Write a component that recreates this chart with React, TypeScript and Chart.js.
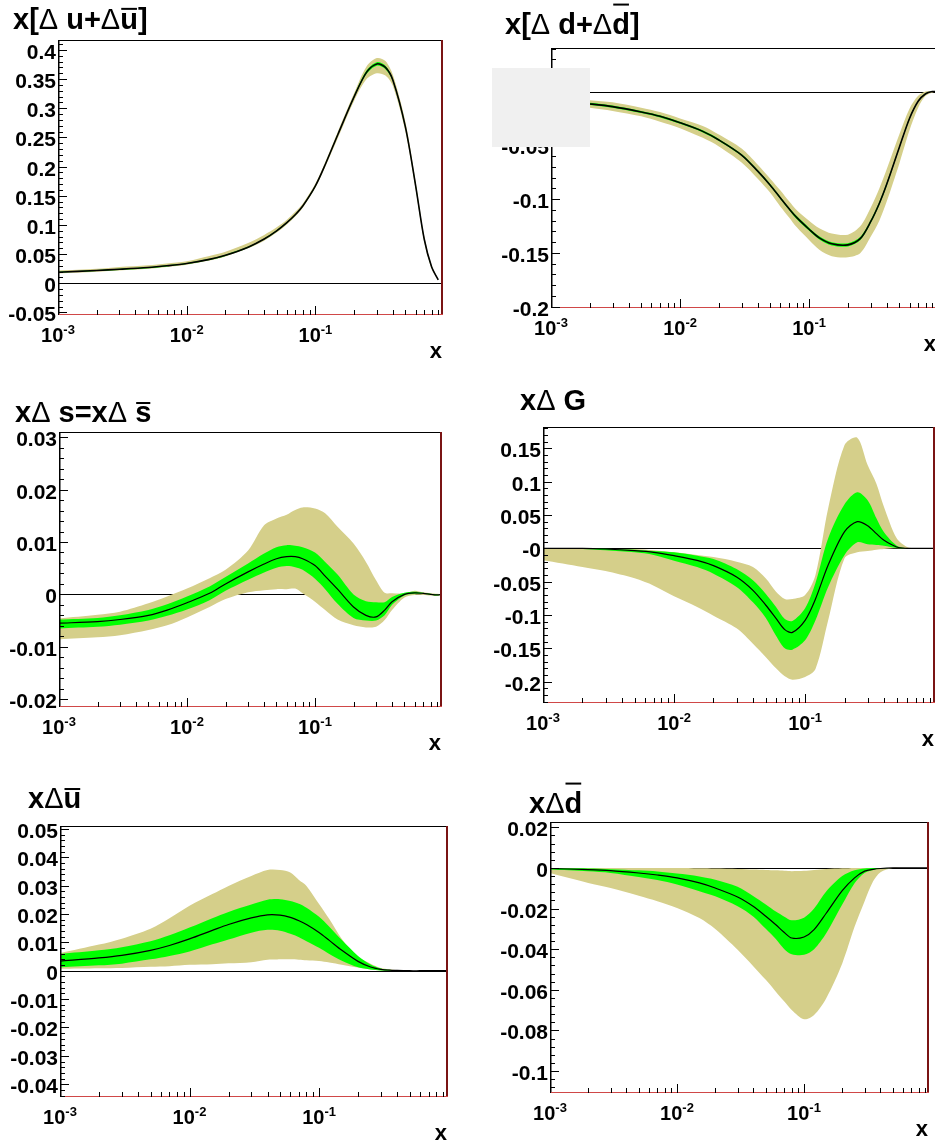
import React, { useEffect, useRef } from 'react';
import { Chart, registerables } from 'chart.js';

Chart.register(...registerables);

// ---------- data ----------
const X = [0.001, 0.002, 0.003, 0.005, 0.007, 0.01, 0.015, 0.02, 0.03, 0.04, 0.05, 0.06, 0.07, 0.08, 0.1, 0.12, 0.15, 0.2, 0.25, 0.3, 0.35, 0.4, 0.5, 0.6, 0.7, 0.8, 0.9, 0.98];

// x[Δu+Δubar]
const U_C = [0.019, 0.022, 0.024, 0.027, 0.030, 0.034, 0.041, 0.048, 0.062, 0.076, 0.090, 0.104, 0.118, 0.133, 0.167, 0.205, 0.256, 0.320, 0.362, 0.376, 0.370, 0.348, 0.268, 0.168, 0.076, 0.028, 0.006, null];
const U_GH = [0.020, 0.023, 0.025, 0.028, 0.031, 0.035, 0.042, 0.049, 0.063, 0.077, 0.091, 0.105, 0.119, 0.134, 0.168, 0.206, 0.257, 0.322, 0.365, 0.379, 0.373, 0.350, 0.270, 0.170, 0.077, 0.029, 0.006, null];
const U_GL = [0.018, 0.021, 0.023, 0.026, 0.029, 0.033, 0.040, 0.047, 0.061, 0.075, 0.089, 0.103, 0.117, 0.132, 0.166, 0.204, 0.255, 0.318, 0.359, 0.373, 0.367, 0.346, 0.266, 0.166, 0.075, 0.027, 0.006, null];
const U_TH = [0.022, 0.025, 0.028, 0.031, 0.034, 0.038, 0.047, 0.054, 0.069, 0.083, 0.096, 0.109, 0.123, 0.137, 0.171, 0.209, 0.261, 0.326, 0.372, 0.386, 0.381, 0.357, 0.277, 0.175, 0.081, 0.031, 0.007, null];
const U_TL = [0.017, 0.020, 0.022, 0.025, 0.028, 0.032, 0.039, 0.046, 0.060, 0.073, 0.087, 0.101, 0.115, 0.130, 0.164, 0.201, 0.250, 0.313, 0.350, 0.360, 0.356, 0.338, 0.260, 0.161, 0.071, 0.025, 0.005, null];

// x[Δd+Δdbar]
const D_C = [-0.008, -0.0115, -0.014, -0.019, -0.023, -0.029, -0.037, -0.045, -0.059, -0.074, -0.087, -0.099, -0.109, -0.117, -0.128, -0.136, -0.1415, -0.1425, -0.1365, -0.121, -0.104, -0.086, -0.052, -0.025, -0.009, -0.002, 0, 0];
const D_GH = [-0.007, -0.0105, -0.013, -0.018, -0.022, -0.028, -0.036, -0.044, -0.058, -0.073, -0.086, -0.098, -0.108, -0.1155, -0.1265, -0.1345, -0.140, -0.141, -0.135, -0.1195, -0.1025, -0.0845, -0.051, -0.024, -0.0085, -0.0015, 0, 0];
const D_GL = [-0.009, -0.0125, -0.015, -0.020, -0.024, -0.030, -0.038, -0.046, -0.060, -0.075, -0.088, -0.100, -0.110, -0.1185, -0.1295, -0.1375, -0.143, -0.144, -0.138, -0.1225, -0.1055, -0.0875, -0.053, -0.026, -0.0095, -0.0025, 0, 0];
const D_TH = [-0.005, -0.008, -0.010, -0.015, -0.019, -0.025, -0.032, -0.040, -0.053, -0.068, -0.081, -0.092, -0.102, -0.110, -0.120, -0.127, -0.132, -0.133, -0.125, -0.108, -0.090, -0.072, -0.040, -0.016, -0.004, 0, 0, 0];
const D_TL = [-0.011, -0.015, -0.018, -0.023, -0.028, -0.034, -0.043, -0.051, -0.066, -0.081, -0.094, -0.107, -0.117, -0.126, -0.138, -0.147, -0.153, -0.154, -0.150, -0.135, -0.120, -0.102, -0.067, -0.036, -0.015, -0.004, -0.001, 0];

// xΔs = xΔsbar
const S_C = [-0.0055, -0.0052, -0.0048, -0.0040, -0.0030, -0.0016, 0.0002, 0.0020, 0.0043, 0.0058, 0.0068, 0.0072, 0.0072, 0.0068, 0.0055, 0.0035, 0.0010, -0.0024, -0.0040, -0.0043, -0.0030, -0.0014, 0.0, 0.0003, 0.0002, 0.0, -0.0001, 0];
const S_GH = [-0.0048, -0.0045, -0.0040, -0.0030, -0.0019, -0.0004, 0.0015, 0.0033, 0.0059, 0.0078, 0.0090, 0.0094, 0.0093, 0.0090, 0.0080, 0.0062, 0.0038, 0.0000, -0.0013, -0.0015, -0.0015, -0.0005, 0.0003, 0.0005, 0.0003, 0.0001, 0.0, 0];
const S_GL = [-0.0065, -0.0062, -0.0058, -0.0050, -0.0041, -0.0029, -0.0011, 0.0007, 0.0028, 0.0042, 0.0051, 0.0054, 0.0052, 0.0047, 0.0030, 0.0010, -0.0018, -0.0045, -0.0050, -0.0050, -0.0040, -0.0020, -0.0002, 0.0001, 0.0001, -0.0001, -0.0002, 0];
const S_TH = [-0.0046, -0.0039, -0.0033, -0.0017, -0.0004, 0.0011, 0.0031, 0.0047, 0.0084, 0.0132, 0.0145, 0.0152, 0.0161, 0.0166, 0.0164, 0.0155, 0.0129, 0.0097, 0.0062, 0.0027, 0.0003, 0.0002, 0.0002, 0.0007, 0.0004, 0.0002, 0.0001, 0];
const S_TL = [-0.0086, -0.0082, -0.0078, -0.0068, -0.0059, -0.0044, -0.0024, -0.0009, 0.0004, 0.0008, 0.0010, 0.0010, 0.0011, 0.0002, -0.0014, -0.0030, -0.0048, -0.0059, -0.0063, -0.0062, -0.0049, -0.0030, -0.0006, -0.0001, -0.0001, -0.0002, -0.0003, 0];

// xΔG
const G_C = [0, 0, -0.001, -0.0035, -0.006, -0.011, -0.018, -0.026, -0.043, -0.063, -0.085, -0.105, -0.122, -0.126, -0.108, -0.076, -0.025, 0.025, 0.040, 0.034, 0.022, 0.012, 0.002, 0, 0, 0, 0, 0];
const G_GH = [0, 0, -0.0005, -0.002, -0.004, -0.006, -0.011, -0.016, -0.031, -0.048, -0.068, -0.088, -0.106, -0.109, -0.090, -0.052, 0.015, 0.066, 0.084, 0.072, 0.045, 0.024, 0.004, 0, 0, 0, 0, 0];
const G_GL = [0, -0.001, -0.003, -0.006, -0.010, -0.0185, -0.028, -0.038, -0.058, -0.081, -0.104, -0.131, -0.150, -0.152, -0.138, -0.108, -0.058, -0.010, 0.009, 0.006, 0.005, 0.004, 0.0005, 0, 0, 0, 0, 0];
const G_TH = [0, -0.001, -0.001, -0.001, -0.003, -0.006, -0.010, -0.013, -0.020, -0.028, -0.045, -0.065, -0.076, -0.076, -0.070, -0.040, 0.060, 0.155, 0.166, 0.125, 0.097, 0.062, 0.015, 0.002, 0, 0, 0, 0];
const G_TL = [-0.018, -0.028, -0.034, -0.045, -0.056, -0.072, -0.088, -0.101, -0.120, -0.143, -0.163, -0.180, -0.192, -0.197, -0.193, -0.181, -0.108, -0.015, -0.006, -0.004, -0.002, -0.001, 0, 0, 0, 0, 0, 0];

// xΔubar
const UB_C = [0.0034, 0.0045, 0.0054, 0.0072, 0.0089, 0.0112, 0.0142, 0.0163, 0.0186, 0.0197, 0.0196, 0.0188, 0.0176, 0.0163, 0.0135, 0.0107, 0.0072, 0.0033, 0.0013, 0.0005, 0.0002, 0.0001, 0, 0, 0, 0, 0, 0];
const UB_GH = [0.0059, 0.0072, 0.0083, 0.0104, 0.0125, 0.0152, 0.0185, 0.0207, 0.0233, 0.0250, 0.0252, 0.0246, 0.0236, 0.0222, 0.0190, 0.0155, 0.0108, 0.0052, 0.0022, 0.0008, 0.0003, 0.0001, 0, 0, 0, 0, 0, 0];
const UB_GL = [0.0012, 0.0019, 0.0025, 0.0040, 0.0052, 0.0068, 0.0093, 0.0110, 0.0134, 0.0144, 0.0141, 0.0130, 0.0118, 0.0104, 0.0081, 0.0059, 0.0035, 0.0012, 0.0004, 0.0001, 0, 0, 0, 0, 0, 0, 0, 0];
const UB_TH = [0.0062, 0.0092, 0.0113, 0.0148, 0.0185, 0.0229, 0.0270, 0.0299, 0.0334, 0.0355, 0.0355, 0.0346, 0.0320, 0.0299, 0.0235, 0.0182, 0.0112, 0.0048, 0.0025, 0.0010, 0.0005, 0.0002, 0, 0, 0, 0, 0, 0];
const UB_TL = [0.0007, 0.0009, 0.0010, 0.0014, 0.0016, 0.0021, 0.0023, 0.0026, 0.0030, 0.0039, 0.0040, 0.0040, 0.0039, 0.0037, 0.0034, 0.0029, 0.0021, 0.0011, 0.0004, 0.0001, 0, 0, 0, 0, 0, 0, 0, 0];

// xΔdbar
const DB_C = [-0.0003, -0.0008, -0.0013, -0.0025, -0.0035, -0.0049, -0.0074, -0.0099, -0.0143, -0.0190, -0.0238, -0.0280, -0.0318, -0.0345, -0.0340, -0.0304, -0.0222, -0.0112, -0.0049, -0.0016, -0.0007, -0.0003, 0, 0, 0, 0, 0, 0];
const DB_GH = [-0.0001, -0.0003, -0.0006, -0.0012, -0.0018, -0.0028, -0.0042, -0.0058, -0.0093, -0.0140, -0.0180, -0.0215, -0.0240, -0.0258, -0.0245, -0.0200, -0.0115, -0.0040, -0.0012, -0.0003, -0.0001, 0, 0, 0, 0, 0, 0, 0];
const DB_GL = [-0.0008, -0.0017, -0.0025, -0.0045, -0.0060, -0.0082, -0.0115, -0.0140, -0.0189, -0.0240, -0.0300, -0.0350, -0.0400, -0.0425, -0.0428, -0.0400, -0.0320, -0.0180, -0.0075, -0.0025, -0.0010, -0.0003, 0, 0, 0, 0, 0, 0];
const DB_TH = [0, -0.0001, -0.0001, -0.0001, -0.0001, -0.0001, -0.0002, -0.0003, -0.0005, -0.0008, -0.0010, -0.0012, -0.0014, -0.0016, -0.0014, -0.0010, -0.0005, -0.0002, 0, 0, 0, 0, 0, 0, 0, 0, 0, 0];
const DB_TL = [-0.0025, -0.0074, -0.0099, -0.0137, -0.0164, -0.0197, -0.0247, -0.0301, -0.0403, -0.0485, -0.0551, -0.0609, -0.0658, -0.0699, -0.0745, -0.0724, -0.0640, -0.0470, -0.0290, -0.0164, -0.0066, -0.0021, 0, 0, 0, 0, 0, 0];

// tick values and labels
const X_MAJOR = [0.001, 0.01, 0.1];
const X_EXP = ['-3', '-2', '-1'];
const U_YT = [0.4, 0.35, 0.3, 0.25, 0.2, 0.15, 0.1, 0.05, 0, -0.05];
const U_YL = ['0.4', '0.35', '0.3', '0.25', '0.2', '0.15', '0.1', '0.05', '0', '-0.05'];
const D_YT = [0, -0.05, -0.1, -0.15, -0.2];
const D_YL = ['0', '-0.05', '-0.1', '-0.15', '-0.2'];
const S_YT = [0.03, 0.02, 0.01, 0, -0.01, -0.02];
const S_YL = ['0.03', '0.02', '0.01', '0', '-0.01', '-0.02'];
const G_YT = [0.15, 0.1, 0.05, 0, -0.05, -0.1, -0.15, -0.2];
const G_YL = ['0.15', '0.1', '0.05', '-0', '-0.05', '-0.1', '-0.15', '-0.2'];
const UB_YT = [0.05, 0.04, 0.03, 0.02, 0.01, 0, -0.01, -0.02, -0.03, -0.04];
const UB_YL = ['0.05', '0.04', '0.03', '0.02', '0.01', '0', '-0.01', '-0.02', '-0.03', '-0.04'];
const DB_YT = [0.02, 0, -0.02, -0.04, -0.06, -0.08, -0.1];
const DB_YL = ['0.02', '0', '-0.02', '-0.04', '-0.06', '-0.08', '-0.1'];

// ---------- styles ----------
const TAN = '#d5cf8a';
const GREEN = '#00ff00';
const FONT = '"Liberation Sans", Arial, Helvetica, sans-serif';

type Seg = { t: string; thin?: boolean; over?: number };
type Series = (number | null)[];
type PanelDef = {
  id: string;
  box: { x: number; y: number; w: number; h: number };
  plot: { L: number; R: number; T: number; B: number };
  xMax: number; yMin: number; yMax: number; minor: number;
  yTicks: number[]; yLabels: string[];
  title: Seg[]; titleX: number; titleY: number;
  c: Series; gh: Series; gl: Series; th: Series; tl: Series;
  lw: number;
};

const PANELS: PanelDef[] = [
  {
    id: 'u', box: { x: 0, y: 0, w: 470, h: 375 }, plot: { L: 58, R: 443, T: 40, B: 315 },
    xMax: 0.98, yMin: -0.0543, yMax: 0.417, minor: 0.01, yTicks: U_YT, yLabels: U_YL,
    title: [{ t: 'x[' }, { t: 'Δ', thin: true }, { t: ' u+' }, { t: 'Δ', thin: true }, { t: 'u', over: 0.66 }, { t: ']' }],
    titleX: 13, titleY: 29, c: U_C, gh: U_GH, gl: U_GL, th: U_TH, tl: U_TL, lw: 1.6,
  },
  {
    id: 'd', box: { x: 470, y: 0, w: 480, h: 375 }, plot: { L: 551, R: 937, T: 48, B: 308 },
    xMax: 0.98, yMin: -0.2012, yMax: 0.0405, minor: 0.01, yTicks: D_YT, yLabels: D_YL,
    title: [{ t: 'x[' }, { t: 'Δ', thin: true }, { t: ' d+' }, { t: 'Δ', thin: true }, { t: 'd', over: 0.98 }, { t: ']' }],
    titleX: 505, titleY: 34, c: D_C, gh: D_GH, gl: D_GL, th: D_TH, tl: D_TL, lw: 1.6,
  },
  {
    id: 's', box: { x: 0, y: 375, w: 470, h: 385 }, plot: { L: 59, R: 442, T: 432, B: 707 },
    xMax: 0.982, yMin: -0.0215, yMax: 0.031, minor: 0.002, yTicks: S_YT, yLabels: S_YL,
    title: [{ t: 'x' }, { t: 'Δ', thin: true }, { t: ' s=x' }, { t: 'Δ', thin: true }, { t: ' ' }, { t: 's', over: 0.62 }],
    titleX: 15, titleY: 422, c: S_C, gh: S_GH, gl: S_GL, th: S_TH, tl: S_TL, lw: 1.2,
  },
  {
    id: 'g', box: { x: 470, y: 375, w: 480, h: 385 }, plot: { L: 543, R: 935, T: 427, B: 703 },
    xMax: 0.98, yMin: -0.232, yMax: 0.182, minor: 0.01, yTicks: G_YT, yLabels: G_YL,
    title: [{ t: 'x' }, { t: 'Δ', thin: true }, { t: ' G' }],
    titleX: 520, titleY: 410, c: G_C, gh: G_GH, gl: G_GL, th: G_TH, tl: G_TL, lw: 1.2,
  },
  {
    id: 'ub', box: { x: 0, y: 760, w: 470, h: 386 }, plot: { L: 60, R: 448, T: 826, B: 1097 },
    xMax: 0.99, yMin: -0.0445, yMax: 0.051, minor: 0.002, yTicks: UB_YT, yLabels: UB_YL,
    title: [{ t: 'x' }, { t: 'Δ', thin: true }, { t: 'u', over: 0.62 }],
    titleX: 28, titleY: 808, c: UB_C, gh: UB_GH, gl: UB_GL, th: UB_TH, tl: UB_TL, lw: 1.2,
  },
  {
    id: 'db', box: { x: 470, y: 760, w: 480, h: 386 }, plot: { L: 550, R: 929, T: 822, B: 1093 },
    xMax: 0.964, yMin: -0.1108, yMax: 0.0226, minor: 0.004, yTicks: DB_YT, yLabels: DB_YL,
    title: [{ t: 'x' }, { t: 'Δ', thin: true }, { t: 'd', over: 0.98 }],
    titleX: 529, titleY: 813, c: DB_C, gh: DB_GH, gl: DB_GL, th: DB_TH, tl: DB_TL, lw: 1.2,
  },
];

const TENSION = 0.3;

const pts = (ys: Series) => X.map((x, i) => ({ x, y: ys[i] }));

function makePlugin(p: PanelDef) {
  const line = (ctx: CanvasRenderingContext2D, x1: number, y1: number, x2: number, y2: number) => {
    ctx.beginPath(); ctx.moveTo(x1, y1); ctx.lineTo(x2, y2); ctx.stroke();
  };
  return {
    id: 'panel_' + p.id,
    beforeDatasetsDraw(chart: any) {
      const { ctx, chartArea: a, scales } = chart;
      const y0 = Math.round(scales.y.getPixelForValue(0)) + 0.5;
      ctx.save();
      ctx.strokeStyle = '#000'; ctx.lineWidth = 1;
      line(ctx, a.left, y0, a.right, y0);
      ctx.restore();
    },
    afterDatasetsDraw(chart: any) {
      const { ctx, chartArea: a, scales } = chart;
      const xs = scales.x, ys = scales.y;
      ctx.save();
      // frame
      ctx.strokeStyle = '#000'; ctx.lineWidth = 1;
      line(ctx, a.left, a.top + 0.5, a.right, a.top + 0.5);
      ctx.lineWidth = 1.5;
      line(ctx, a.left + 0.75, a.top, a.left + 0.75, a.bottom);
      ctx.strokeStyle = '#7a1414'; ctx.lineWidth = 2;
      line(ctx, a.right - 1, a.top, a.right - 1, a.bottom);
      ctx.strokeStyle = '#d04848'; ctx.lineWidth = 1;
      line(ctx, a.left, a.bottom - 0.5, a.right, a.bottom - 0.5);
      // y ticks
      ctx.strokeStyle = '#000'; ctx.lineWidth = 1;
      const kmin = Math.ceil(p.yMin / p.minor - 1e-6);
      const kmax = Math.floor(p.yMax / p.minor + 1e-6);
      for (let k = kmin; k <= kmax; k++) {
        const y = Math.round(ys.getPixelForValue(k * p.minor)) + 0.5;
        const len = k % 5 === 0 ? 9 : 5;
        line(ctx, a.left, y, a.left + len, y);
      }
      // x ticks
      for (const d of [-3, -2, -1, 0]) {
        for (let m = 1; m <= 9; m++) {
          const v = m * Math.pow(10, d);
          if (v > p.xMax + 1e-9) break;
          const x = Math.round(xs.getPixelForValue(v)) + 0.5;
          const len = m === 1 ? 9 : 5;
          line(ctx, x, a.bottom, x, a.bottom - len);
        }
      }
      ctx.restore();
    },
    afterDraw(chart: any) {
      const { ctx, chartArea: a, scales } = chart;
      const xs = scales.x, ys = scales.y;
      ctx.save();
      ctx.fillStyle = '#000';
      // y labels
      ctx.font = `bold 21px ${FONT}`;
      ctx.textAlign = 'right';
      ctx.textBaseline = 'alphabetic';
      p.yTicks.forEach((v, i) => {
        const y = ys.getPixelForValue(v);
        ctx.fillText(p.yLabels[i], a.left - 2, y + 9);
      });
      // x labels
      ctx.textAlign = 'left';
      X_MAJOR.forEach((v, i) => {
        const px = xs.getPixelForValue(v);
        ctx.font = `bold 20px ${FONT}`;
        const w1 = ctx.measureText('10').width;
        ctx.font = `bold 13px ${FONT}`;
        const w2 = ctx.measureText(X_EXP[i]).width;
        const x0 = px - (w1 + w2) / 2;
        ctx.font = `bold 20px ${FONT}`;
        ctx.fillText('10', x0, a.bottom + 27);
        ctx.font = `bold 13px ${FONT}`;
        ctx.fillText(X_EXP[i], x0 + w1, a.bottom + 18.5);
      });
      // axis title
      ctx.font = `bold 22px ${FONT}`;
      ctx.textAlign = 'right';
      ctx.fillText('x', a.right - 1, a.bottom + 43);
      // panel title
      ctx.textAlign = 'left';
      let tx = p.titleX - p.box.x;
      const ty = p.titleY - p.box.y;
      for (const s of p.title) {
        ctx.font = `${s.thin ? '' : 'bold '}29px ${FONT}`;
        const w = ctx.measureText(s.t).width;
        ctx.fillText(s.t, tx, ty);
        if (s.over) {
          ctx.fillRect(tx + 1, ty - s.over * 29 - 2, w - 2, 2);
        }
        tx += w;
      }
      ctx.restore();
    },
  };
}

function makeConfig(p: PanelDef): any {
  const band = (ys: Series, fill: any, color: string) => ({
    data: pts(ys), borderColor: 'rgba(0,0,0,0)', borderWidth: 0, pointRadius: 0,
    fill, backgroundColor: color, tension: TENSION, spanGaps: false,
  });
  return {
    type: 'line',
    data: {
      datasets: [
        { data: pts(p.c), borderColor: '#000', borderWidth: p.lw, pointRadius: 0, fill: false, tension: TENSION, spanGaps: false },
        band(p.gh, '+1', GREEN),
        band(p.gl, false, GREEN),
        band(p.th, '+1', TAN),
        band(p.tl, false, TAN),
      ],
    },
    options: {
      animation: false,
      responsive: false,
      maintainAspectRatio: false,
      devicePixelRatio: 1,
      events: [],
      layout: {
        padding: {
          left: p.plot.L - p.box.x,
          right: p.box.x + p.box.w - p.plot.R,
          top: p.plot.T - p.box.y,
          bottom: p.box.y + p.box.h - p.plot.B,
        },
      },
      scales: {
        x: { type: 'logarithmic', min: 0.001, max: p.xMax, display: false },
        y: { type: 'linear', min: p.yMin, max: p.yMax, display: false },
      },
      plugins: { legend: { display: false }, tooltip: { enabled: false }, title: { display: false } },
    },
    plugins: [makePlugin(p)],
  };
}

function Panel({ p }: { p: PanelDef }) {
  const ref = useRef<HTMLCanvasElement | null>(null);
  useEffect(() => {
    if (!ref.current) return;
    const chart = new Chart(ref.current, makeConfig(p));
    return () => chart.destroy();
  }, [p]);
  return (
    <canvas
      ref={ref}
      width={p.box.w}
      height={p.box.h}
      style={{ position: 'absolute', left: p.box.x, top: p.box.y, width: p.box.w, height: p.box.h }}
    />
  );
}

export default function App() {
  return (
    <div style={{ position: 'fixed', left: 0, top: 0, width: 935, height: 1146, overflow: 'hidden', background: '#fff' }}>
      {PANELS.map((p) => (
        <Panel key={p.id} p={p} />
      ))}
      <div style={{ position: 'absolute', left: 492, top: 68, width: 98, height: 79, background: '#f0f0f0' }} />
    </div>
  );
}
